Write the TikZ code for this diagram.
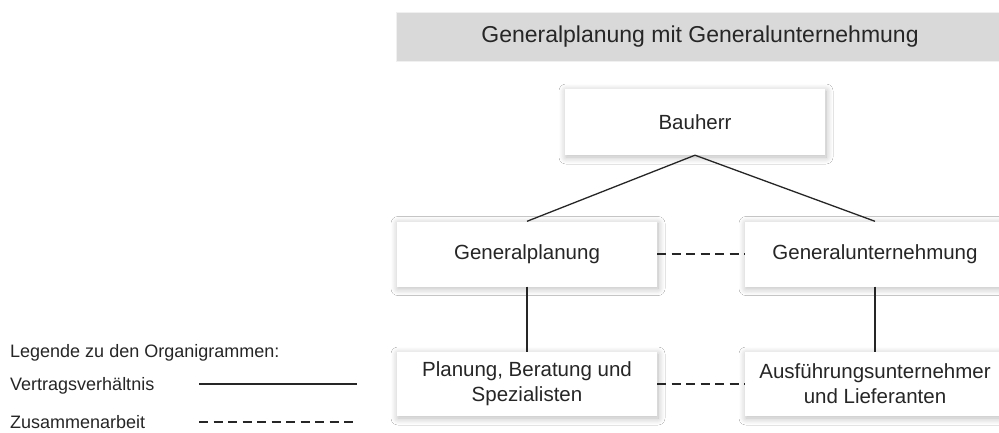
\documentclass[tikz,border=0pt]{standalone}
\usepackage{fontspec}
\setmainfont{Liberation Sans}
\usetikzlibrary{shadows.blur}
\definecolor{ink}{HTML}{262626}
\definecolor{barfill}{HTML}{D9D9D9}
\begin{document}
\begin{tikzpicture}[x=1pt,y=-1pt,
  orgbox/.style={fill=white, minimum width=260pt, minimum height=65pt,
    inner sep=0pt, align=center, text=ink, font=\fontsize{20.5}{25}\selectfont,
    blur shadow={shadow xshift=1pt, shadow yshift=-2pt, shadow blur radius=7pt, shadow opacity=28, shadow blur steps=12}},
  contract/.style={draw=ink, line width=1.3pt},
  teamwork/.style={draw=ink, line width=1.2pt, dash pattern=on 9pt off 5.5pt},
  legendtext/.style={anchor=west, inner sep=0pt, text=ink, font=\fontsize{18}{22}\selectfont}]
\useasboundingbox (0,0) rectangle (999,432);
\fill[white] (0,0) rectangle (999,432);

% title bar
\node[fill=barfill, draw=black!6, minimum width=608pt, minimum height=49pt, inner sep=0pt,
  text=ink, font=\fontsize{23}{27}\selectfont] (title) at (700,36.5) {Generalplanung mit Generalunternehmung};

% organisation boxes
\node[orgbox, minimum height=66pt] (bh) at (695,122) {Bauherr};
\node[orgbox] (gp) at (527,254) {Generalplanung};
\node[orgbox] (gu) at (875,254) {Generalunternehmung};
\node[orgbox, minimum height=64pt] (pl) at (527,384) {Planung, Beratung und\\Spezialisten};
\node[orgbox, minimum height=64pt] (au) at (875,384) {Ausführungsunternehmer\\und Lieferanten};

% contractual relations
\draw[contract] (bh.south) -- (gp.north);
\draw[contract] (bh.south) -- (gu.north);
\draw[contract] (gp.south) -- (pl.north);
\draw[contract] (gu.south) -- (au.north);

% cooperation
\draw[teamwork] (gp.east) -- (gu.west);
\draw[teamwork] (pl.east) -- (au.west);

% legend
\node[legendtext] (lg) at (10,353) {Legende zu den Organigrammen:};
\node[legendtext] (lv) at (10,386) {Vertragsverhältnis};
\node[legendtext] (lz) at (10,422.5) {Zusammenarbeit};
\coordinate (lva) at (199,384);
\coordinate (lvb) at (357,384);
\coordinate (lza) at (199,422);
\coordinate (lzb) at (357,422);
\draw[contract, line width=1.6pt] (lva) -- (lvb);
\draw[teamwork, line width=1.4pt] (lza) -- (lzb);
\end{tikzpicture}
\end{document}
